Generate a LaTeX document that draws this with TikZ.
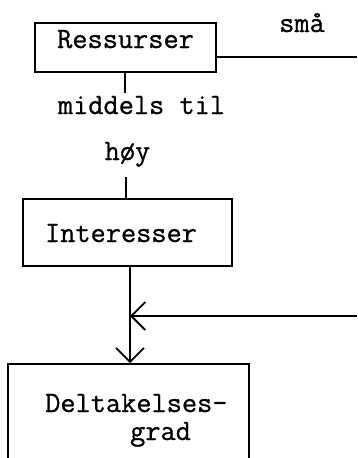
\documentclass[tikz,border=0pt]{standalone}
\usepackage{fontspec}
\newfontfamily\typew[FakeBold=0.8]{Latin Modern Mono}
\usetikzlibrary{arrows.meta}
\begin{document}
\begin{tikzpicture}[x=1pt,y=-1pt,
  lbl/.style={font=\typew\fontsize{29.5}{34}\selectfont, inner sep=0pt, anchor=base},
  box/.style={draw, line width=1.6pt, inner sep=0pt},
  conn/.style={line width=1.6pt},
  thick conn/.style={line width=2.6pt},
  barb/.style={-{Straight Barb[length=14pt,width=28pt,line width=1.8pt]}}]
\useasboundingbox (0,0) rectangle (357,458);
\clip (0,0) rectangle (357,458);
% boxes
\node[box, minimum width=181pt, minimum height=49pt] (res) at (125.5,47.5) {};
\node[box, minimum width=209pt, minimum height=67pt] (int) at (127.5,232.5) {};
\node[box, minimum width=241pt, minimum height=130pt] (del) at (128.5,429) {};
% texts
\node[lbl] (tres) at (125.5,48) {Ressurser};
\node[lbl] (tint) at (121,242) {Interesser};
\node[lbl, anchor=base west] (tdel1) at (45,412) {Deltakelses-};
\node[lbl, anchor=base west] (tdel2) at (130,440) {grad};
\node[lbl] (tmid) at (141.5,114) {middels til};
\node[lbl] (thoy) at (127.5,160) {høy};
\node[lbl] (tsma) at (302,32) {små};
% coordinates
\coordinate (rend) at (357,57);
\coordinate (lend) at (357,316);
\coordinate (resstub) at (125,93);
\coordinate (intstub) at (126,177);
\coordinate (join) at (130,316);
% connectors
\draw[conn] (res.east |- rend) -- (rend);
\draw[conn] (res.south -| resstub) -- (resstub);
\draw[conn] (intstub) -- (intstub |- int.north);
\draw[thick conn] (int.south -| join) -- (join);
\draw[thick conn, barb] (join) -- (join |- del.north);
\draw[conn, barb] (lend) -- (join);
\end{tikzpicture}
\end{document}
